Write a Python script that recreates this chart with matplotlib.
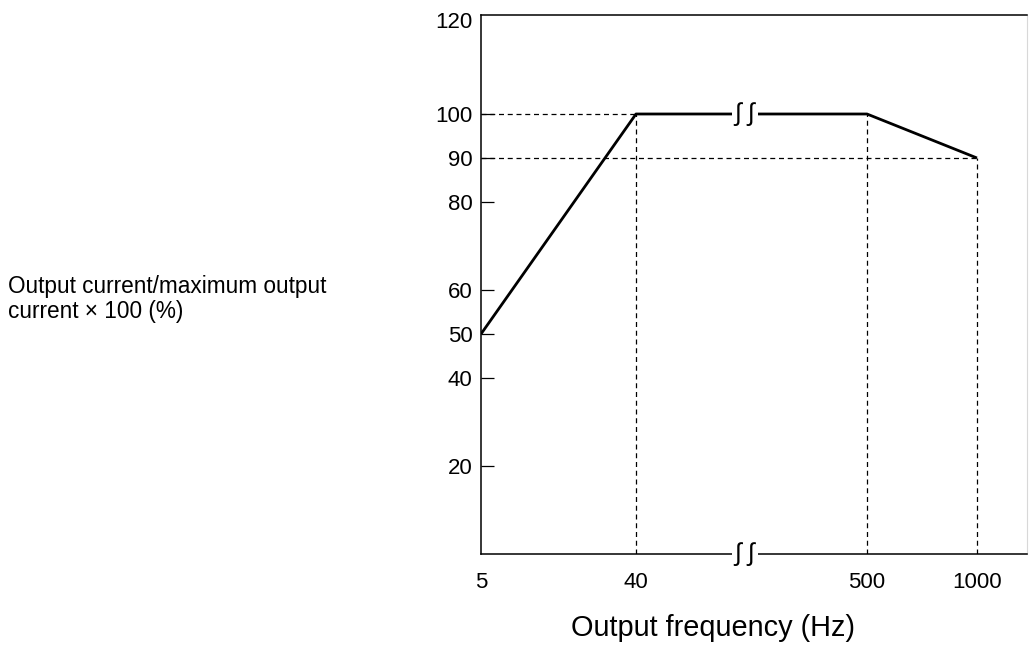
import numpy as np
import matplotlib.pyplot as plt
from matplotlib import font_manager
from matplotlib.font_manager import FontProperties

# data
freq_labels = ['5', '40', '500', '1000']
freq_pos = [0, 155, 386, 496]          # position of each frequency on the broken axis
current_pct = [50, 100, 100, 90]
y_ticks = [20, 40, 50, 60, 80, 90, 100]

regular = font_manager.findfont(FontProperties(family='Liberation Sans'))

fig = plt.figure(figsize=(10.29, 6.46), dpi=100)
ax = fig.add_axes([481 / 1029, 92 / 646, 546 / 1029, 539 / 646])

ax.set_xlim(0, 546)
ax.set_ylim(0, 122.5)

# main curve
ax.plot(freq_pos, current_pct, color='black', lw=2.0, solid_capstyle='butt', zorder=3)

# dashed guide lines
dash = dict(color='black', lw=0.9, ls=(0, (4, 3)), zorder=2)
ax.plot([0, freq_pos[1]], [current_pct[1]] * 2, **dash)
ax.plot([0, freq_pos[3]], [current_pct[3]] * 2, **dash)
for p, v in zip(freq_pos[1:], current_pct[1:]):
    ax.plot([p, p], [0, v], **dash)

# axis break marks
brk_x = 264
for yv in (current_pct[1], 0):
    ax.text(brk_x, yv, '\u222b \u222b', ha='center', va='center',
            fontproperties=FontProperties(fname=regular, size=18),
            bbox=dict(facecolor='white', edgecolor='none', pad=2), zorder=5,
            clip_on=False)

tick_fp = FontProperties(fname=regular, size=16)
ax.set_xticks(freq_pos)
ax.set_xticklabels(freq_labels, fontproperties=tick_fp)
ax.tick_params(axis='x', length=0, pad=13)

ax.set_yticks(y_ticks + [121.4])
ax.set_yticklabels([str(t) for t in y_ticks] + ['120'], fontproperties=tick_fp)
ax.tick_params(axis='y', direction='in', length=9.5, width=0.9, pad=6)
ax.yaxis.get_major_ticks()[-1].tick1line.set_visible(False)

for s in ('left', 'bottom', 'top'):
    ax.spines[s].set_linewidth(1.1)
ax.spines['right'].set_color('#d8d8d8')

fig.text(713 / 1029, 1 - 628 / 646, 'Output frequency (Hz)', ha='center', va='center',
         fontproperties=FontProperties(fname=regular, size=20.8))
fig.text(8 / 1029, 1 - 299 / 646, 'Output current/maximum output\ncurrent \u00d7 100 (%)',
         fontproperties=FontProperties(fname=regular, size=16.3),
         ha='left', va='center', linespacing=1.15)

fig.savefig('out.png', dpi=100)
